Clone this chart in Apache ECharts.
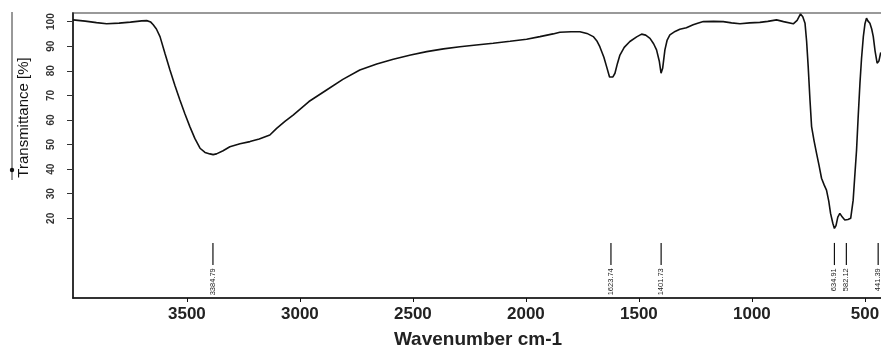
<!DOCTYPE html>
<html>
<head>
<meta charset="utf-8">
<script src="https://cdn.jsdelivr.net/npm/echarts@6/dist/echarts.min.js"></script>
<style>
html,body{margin:0;padding:0;background:#fff;}
#chart{width:881px;height:350px;}
</style>
</head>
<body>
<div id="chart"></div>
<script>
// Wavenumber (cm-1) and transmittance (%)
const wavenumbers = [4004,3950,3900,3855,3800,3750,3700,3678,3660,3649,3635,3619,3597,3575,3553,3531,3509,3487,3465,3442,3420,3398,3384,3369,3340,3310,3265,3221,3180,3133,3103,3065,3030,2960,2882,2810,2735,2660,2587,2510,2439,2365,2292,2220,2145,2070,1997,1938,1880,1850,1800,1761,1730,1702,1685,1673,1655,1643,1630,1624,1615,1606,1595,1584,1565,1540,1510,1488,1470,1451,1435,1422,1410,1402,1395,1385,1375,1363,1340,1319,1290,1260,1240,1215,1170,1127,1090,1053,1010,965,930,891,860,817,800,785,775,765,758,751,743,736,725,714,703,692,680,670,660,652,642,635,628,620,611,600,589,575,563,552,545,537,530,522,515,507,500,493,487,478,470,463,455,446,438,430];
const transmittance = [100.7,100.2,99.6,99.1,99.4,99.8,100.3,100.4,99.8,98.7,97,93.9,87,80.3,74,68.1,62.5,57.3,52.5,48.5,46.8,46.2,45.9,46.2,47.5,49.1,50.3,51.2,52.3,53.9,56.6,59.5,62.0,67.5,72.2,76.5,80.3,82.8,84.7,86.4,87.8,88.9,89.8,90.5,91.2,92.0,92.8,93.9,95.0,95.7,95.9,95.9,95.2,93.9,92,89.8,85.5,81.7,77.5,76.7,77.5,79.0,83,86.4,89.5,91.9,93.8,94.9,94.5,93.2,91,88.5,84,79.0,81,88.5,92.5,94.6,96.0,96.9,97.5,98.7,99.3,100,100.1,100,99.5,99.1,99.5,99.7,100.1,100.7,100,99.1,100.5,103.1,102,99.3,92,81.7,68,57.3,51.5,46.4,41.5,36.3,33.5,31.5,27,22.0,18,15.9,17,20.5,22.0,20.5,19.3,19.5,20.0,27.4,37,47.8,61,74.9,85,93.9,99,101.4,100.3,99.3,97,93.9,88,83.1,84,87.5];

// Peak markers
const peakPositions = [3384.79, 1623.74, 1401.73, 634.91, 582.12, 441.39];
const peakLabels = ['3384.79', '1623.74', '1401.73', '634.91', '582.12', '441.39'];

// Tick labels
const xTicks = [3500, 3000, 2500, 2000, 1500, 1000, 500];
const yTicks = [20, 30, 40, 50, 60, 70, 80, 90, 100];

const curve = wavenumbers.map((w, i) => [w, transmittance[i]]);
const peaks = peakPositions.map((p, i) => [p, peakLabels[i]]);

const chart = echarts.init(document.getElementById('chart'), null, {renderer: 'canvas'});
chart.setOption({
  animation: false,
  backgroundColor: '#fff',
  grid: {left: 73, top: 13, right: -2, bottom: 52, show: true, borderColor: '#999', borderWidth: 2,
         backgroundColor: 'transparent', containLabel: false, outerBoundsMode: 'none'},
  xAxis: {
    type: 'value', inverse: true, min: 420, max: 4004,
    name: 'Wavenumber cm-1', nameLocation: 'middle', nameGap: 32,
    nameTextStyle: {fontFamily: 'Liberation Sans', fontSize: 19, fontWeight: 'bold', color: '#222'},
    axisLine: {show: true, onZero: false, lineStyle: {color: '#111', width: 1.5}},
    axisTick: {show: true, length: 4, lineStyle: {color: '#111'}, customValues: xTicks},
    axisLabel: {customValues: xTicks, margin: 8, fontFamily: 'Liberation Sans', fontSize: 17, fontWeight: 'bold', color: '#222',
                formatter: function (v) { return String(v); }},
    splitLine: {show: false}
  },
  yAxis: {
    type: 'value', min: -12.4, max: 103.5,
    name: 'Transmittance [%]', nameLocation: 'middle', nameGap: 42,
    nameTextStyle: {fontFamily: 'Liberation Sans', fontSize: 15, color: '#111', padding: [0, 0, 0, 76]},
    axisLine: {show: true, onZero: false, lineStyle: {color: '#111', width: 1.5}},
    axisTick: {show: true, length: 6, lineStyle: {color: '#333'}, customValues: yTicks},
    axisLabel: {customValues: yTicks, rotate: 90, margin: 17, fontFamily: 'Liberation Sans', fontSize: 10, fontWeight: 'bold', color: '#333',
                formatter: function (v) { return String(v); }},
    splitLine: {show: false}
  },
  graphic: [
    {type: 'line', shape: {x1: 12, y1: 12, x2: 12, y2: 180}, style: {stroke: '#333', lineWidth: 1}},
    {type: 'circle', shape: {cx: 12, cy: 170, r: 2.2}, style: {fill: '#111'}}
  ],
  series: [
    {
      type: 'line', data: curve, showSymbol: false, symbol: 'none',
      lineStyle: {color: '#111', width: 1.6}, z: 3
    },
    {
      type: 'custom', data: peaks, z: 4,
      renderItem: function (params, api) {
        const v = api.value(0);
        const top = api.coord([v, 10]);
        const bot = api.coord([v, 1]);
        const lab = api.coord([v, -0.3]);
        return {
          type: 'group',
          children: [
            {type: 'line', shape: {x1: top[0], y1: top[1], x2: bot[0], y2: bot[1]}, style: {stroke: '#111', lineWidth: 1.2}},
            {type: 'text', x: lab[0], y: lab[1], rotation: Math.PI / 2,
              style: {text: peakLabels[params.dataIndex], fontFamily: 'Liberation Sans', fontSize: 7.5, fill: '#222', align: 'right', verticalAlign: 'middle'}}
          ]
        };
      }
    }
  ]
});
</script>
</body>
</html>
